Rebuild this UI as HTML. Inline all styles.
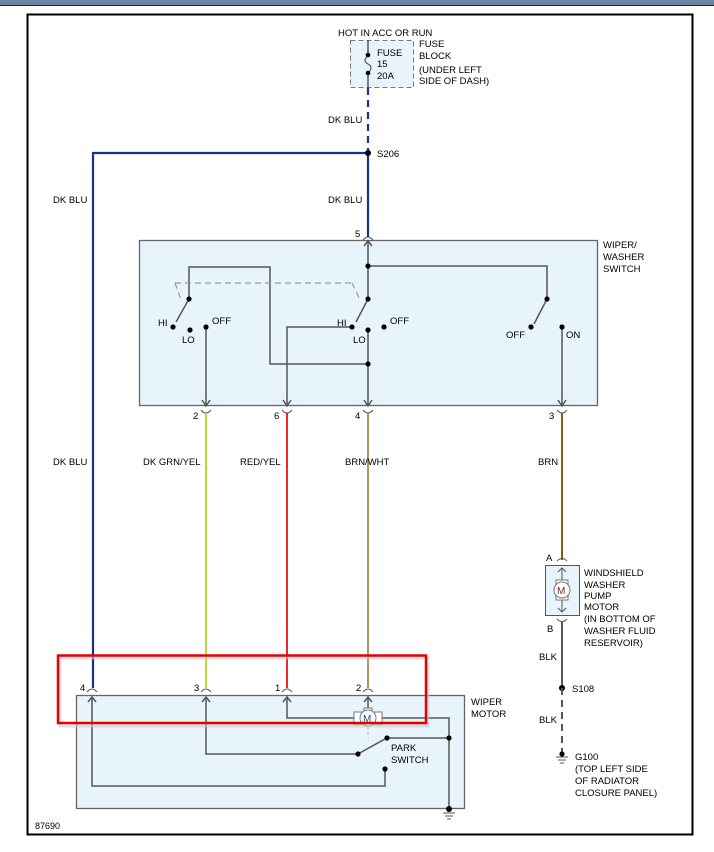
<!DOCTYPE html>
<html><head><meta charset="utf-8"><style>
html,body{margin:0;padding:0;background:#fff;}
svg{display:block;font-family:"Liberation Sans",Arial,sans-serif;}
text{font-size:9.5px;fill:#000;}
</style></head><body>
<svg width="714" height="852" viewBox="0 0 714 852" xmlns="http://www.w3.org/2000/svg">
<rect x="0" y="0" width="714" height="5" fill="#6d87a3"/>
<line x1="0" y1="5.5" x2="714" y2="5.5" stroke="#222" stroke-width="1"/>
<rect x="27.5" y="14.5" width="665" height="820" fill="#fff" stroke="#000" stroke-width="2"/>

<!-- fuse -->
<text x="338" y="36">HOT IN ACC OR RUN</text>
<rect x="350.5" y="40.5" width="63" height="47" fill="#e8f4fc" stroke="#777" stroke-dasharray="5,3"/>
<path d="M368 40 V55 M368 73 V88" stroke="#555" stroke-width="1.5"/>
<path d="M368 55 C364 60,364 62,368 64 C372 66,372 69,368 73" stroke="#555" fill="none" stroke-width="1.2"/>
<circle cx="368" cy="55" r="2.3" fill="#000"/><circle cx="368" cy="73" r="2.3" fill="#000"/>
<text x="377" y="56">FUSE</text><text x="377" y="67">15</text><text x="377" y="79">20A</text>
<text x="419" y="47">FUSE</text><text x="419" y="59">BLOCK</text><text x="419" y="73">(UNDER LEFT</text><text x="419" y="84">SIDE OF DASH)</text>

<!-- blue wires -->
<line x1="368" y1="88" x2="368" y2="153" stroke="#1a2f8a" stroke-width="2.2" stroke-dasharray="7,5"/>
<text x="328" y="123">DK BLU</text>
<path d="M368 153 V237 M368 153 H93 V688" stroke="#1a2f8a" stroke-width="2.2" fill="none"/>
<circle cx="368" cy="153" r="3" fill="#000"/>
<text x="377" y="157">S206</text>
<text x="53" y="203">DK BLU</text><text x="328" y="203">DK BLU</text><text x="53" y="465">DK BLU</text>

<!-- switch box -->
<rect x="139.5" y="240.5" width="458" height="165" fill="#e8f4fc" stroke="#666" stroke-width="1.3"/>
<text x="603" y="248">WIPER/</text><text x="603" y="260">WASHER</text><text x="603" y="272">SWITCH</text>
<text x="355" y="237">5</text>
<path d="M363 240 Q368 234 373 240" stroke="#555" fill="none"/>
<g stroke="#555" stroke-width="1.5" fill="none">
<path d="M368 241 V299 M368 266 H547 V299"/>
<path d="M364 246 L368 241 L372 246"/>
<path d="M368 330 V406 M368 364 H270 V267 H189 V299"/>
<path d="M352 327 H287 V406 M206 327 V406 M562 327 V406"/>
<path d="M189 299 L176 322 M368 299 L356 322 M547 299 L534 324"/>
<path d="M202 400 L206 406 L210 400 M283 400 L287 406 L291 400 M364 400 L368 406 L372 400 M558 400 L562 406 L566 400"/>
</g>
<path d="M175 283 H352 M175 283 L181 300 M352 283 L360 300" stroke="#999" stroke-width="1.2" stroke-dasharray="6,4" fill="none"/>
<g fill="#000">
<circle cx="368" cy="266" r="2.6"/><circle cx="368" cy="364" r="2.6"/>
<circle cx="189" cy="299" r="2.6"/><circle cx="173" cy="327" r="2.6"/><circle cx="190" cy="330" r="2.6"/><circle cx="206" cy="327" r="2.6"/>
<circle cx="368" cy="299" r="2.6"/><circle cx="352" cy="327" r="2.6"/><circle cx="368" cy="330" r="2.6"/><circle cx="384" cy="327" r="2.6"/>
<circle cx="547" cy="299" r="2.6"/><circle cx="531" cy="327" r="2.6"/><circle cx="562" cy="327" r="2.6"/>
</g>
<text x="158" y="326">HI</text><text x="182" y="343">LO</text><text x="212" y="324">OFF</text>
<text x="337" y="326">HI</text><text x="353" y="343">LO</text><text x="390" y="324">OFF</text>
<text x="506" y="338">OFF</text><text x="566" y="338">ON</text>

<!-- bottom connectors -->
<g stroke="#555" fill="none"><path d="M201 410 Q206 416 211 410 M282 410 Q287 416 292 410 M363 410 Q368 416 373 410 M557 410 Q562 416 567 410"/></g>
<text x="193" y="419">2</text><text x="274" y="419">6</text><text x="355" y="419">4</text><text x="549" y="419">3</text>
<line x1="206" y1="413" x2="206" y2="688" stroke="#b8d418" stroke-width="1.8"/>
<line x1="287" y1="413" x2="287" y2="688" stroke="#f01010" stroke-width="1.8"/>
<line x1="368" y1="413" x2="368" y2="688" stroke="#a8884a" stroke-width="1.8"/>
<line x1="562" y1="413" x2="562" y2="560" stroke="#8a5a10" stroke-width="2"/>
<text x="143" y="465">DK GRN/YEL</text><text x="240" y="465">RED/YEL</text><text x="345" y="465">BRN/WHT</text><text x="538" y="465">BRN</text>

<!-- pump -->
<text x="546" y="561">A</text>
<path d="M557 561 Q562 556 567 561" stroke="#555" fill="none"/>
<rect x="545.5" y="565.5" width="34" height="50" fill="#e8f4fc" stroke="#555"/>
<path d="M562 568 V583 M562 597 V612 M558 572 L562 568 L566 572 M558 608 L562 612 L566 608" stroke="#555" fill="none"/>
<rect x="556" y="580" width="12" height="20" fill="#fff" stroke="#777"/>
<circle cx="562" cy="590" r="8" fill="#fff" stroke="#777"/>
<text x="557" y="594" style="font-size:10px;fill:#8a2010">M</text>
<text x="547" y="632">B</text>
<path d="M557 619 Q562 624 567 619" stroke="#555" fill="none"/>
<text x="584" y="576">WINDSHIELD</text><text x="584" y="588">WASHER</text><text x="584" y="599">PUMP</text><text x="584" y="610">MOTOR</text><text x="584" y="622">(IN BOTTOM OF</text><text x="584" y="634">WASHER FLUID</text><text x="584" y="646">RESERVOIR)</text>
<line x1="562" y1="622" x2="562" y2="688" stroke="#555" stroke-width="2"/>
<text x="539" y="660">BLK</text>
<circle cx="562" cy="688" r="3" fill="#000"/><text x="572" y="692">S108</text>
<line x1="562" y1="688" x2="562" y2="752" stroke="#555" stroke-width="2" stroke-dasharray="7,5"/>
<text x="539" y="723">BLK</text>
<circle cx="562" cy="754" r="2.6" fill="#000"/>
<path d="M556 757 H568 M558 760 H566 M560 763 H564" stroke="#555"/>
<text x="575" y="760">G100</text><text x="575" y="772">(TOP LEFT SIDE</text><text x="575" y="784">OF RADIATOR</text><text x="575" y="796">CLOSURE PANEL)</text>

<!-- wiper motor -->
<rect x="76.5" y="695.5" width="388" height="113" fill="#e8f4fc" stroke="#666" stroke-width="1.3"/>
<text x="471" y="705">WIPER</text><text x="471" y="717">MOTOR</text>
<g stroke="#555" fill="none">
<path d="M87 692 Q92 686 97 692 M201 692 Q206 686 211 692 M282 692 Q287 686 292 692 M363 692 Q368 686 373 692"/>
</g>
<text x="80" y="691">4</text><text x="194" y="691">3</text><text x="275" y="691">1</text><text x="356" y="691">2</text>
<g stroke="#555" stroke-width="1.5" fill="none">
<path d="M92 697 V786 H385 V769"/>
<path d="M206 697 V754 H358 M358 754 L385 739"/>
<path d="M287 697 V718 H355 M381 718 H449 V809 M387 738 H449"/>
<path d="M368 697 V710"/>
<path d="M88 702 L92 697 L96 702 M202 702 L206 697 L210 702 M283 702 L287 697 L291 702 M364 702 L368 697 L372 702"/>
</g>
<line x1="368" y1="727" x2="368" y2="738" stroke="#bbb" stroke-dasharray="3,2"/>
<rect x="364" y="708" width="8" height="4" fill="#fff" stroke="#777"/>
<rect x="354" y="712" width="28" height="12" fill="#fff" stroke="#777"/>
<circle cx="368" cy="718" r="8" fill="#fff" stroke="#777"/>
<text x="363" y="722" style="font-size:10px;fill:#1a4a9a">M</text>
<g fill="#000"><circle cx="449" cy="738" r="2.6"/><circle cx="387" cy="738" r="2.6"/><circle cx="358" cy="754" r="2.6"/><circle cx="385" cy="769" r="2.6"/><circle cx="449" cy="809" r="3"/></g>
<path d="M443 813 H455 M445 816 H453 M447 819 H451" stroke="#555"/>
<text x="391" y="751">PARK</text><text x="391" y="763">SWITCH</text>
<text x="35" y="829" style="font-size:9px">87690</text>

<!-- red highlight -->
<rect x="60" y="658" width="368" height="68" fill="none" stroke="#ccc" stroke-width="3" opacity="0.6"/>
<rect x="58" y="655.5" width="368" height="67.5" fill="none" stroke="#e60000" stroke-width="2.5"/>
</svg>
</body></html>
